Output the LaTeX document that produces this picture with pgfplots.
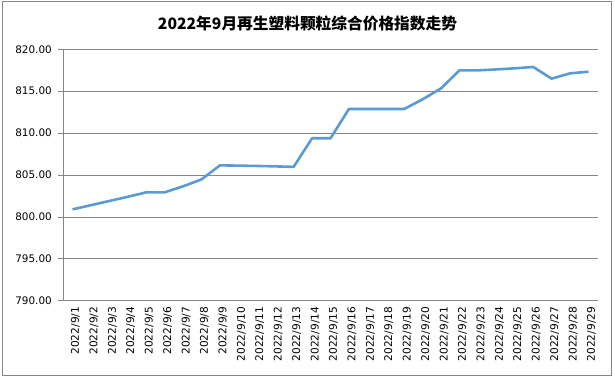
\documentclass[border=0pt]{standalone}
\usepackage{pgfplots}
\pgfplotsset{compat=1.18}
\usepackage{fontspec}
\setmainfont{DejaVu Sans}
\newfontfamily\cjk{Noto Sans CJK SC}
\definecolor{linec}{RGB}{91,155,213}
\definecolor{gridc}{RGB}{134,134,134}
\begin{document}
\begin{tikzpicture}[x=1pt,y=1pt]
\useasboundingbox (0,0) rectangle (615,378);
\draw[gridc, line width=0.9pt] (2.5,2.5) rectangle (611.5,376.5);
\node[font=\cjk\bfseries\fontsize{15.7}{18}\selectfont, anchor=center] at (307.5,354.5) {2022年9月再生塑料颗粒综合价格指数走势};
\begin{axis}[
  at={(63.3pt,77.3pt)}, anchor=south west,
  scale only axis, width=534.4pt, height=251.4pt,
  xmin=-0.5, xmax=28.5, ymin=790, ymax=820,
  axis x line*=bottom, axis y line*=left,
  axis line style={gridc, line width=0.8pt, -},
  ytick={790,795,...,820},
  ymajorgrids, grid style={gridc, line width=0.8pt},
  tick align=outside, major tick length=5pt,
  tick style={gridc, line width=0.8pt},
  xtick={0,...,28},
  x tick style={draw=none},
  minor xtick={-0.5,0.5,...,28.5},
  minor x tick style={gridc, line width=0.8pt},
  minor tick length=5pt,
  xticklabels={2022/9/1,2022/9/2,2022/9/3,2022/9/4,2022/9/5,2022/9/6,2022/9/7,2022/9/8,2022/9/9,2022/9/10,2022/9/11,2022/9/12,2022/9/13,2022/9/14,2022/9/15,2022/9/16,2022/9/17,2022/9/18,2022/9/19,2022/9/20,2022/9/21,2022/9/22,2022/9/23,2022/9/24,2022/9/25,2022/9/26,2022/9/27,2022/9/28,2022/9/29},
  xticklabel style={rotate=90, anchor=east, font=\fontsize{10.6}{12}\selectfont, inner sep=1pt, yshift=-3pt},
  yticklabel style={font=\fontsize{10.4}{12}\selectfont, xshift=-3pt},
  /pgf/number format/assume math mode=true,
  yticklabel={\pgfmathprintnumber[fixed, fixed zerofill, precision=2, 1000 sep={}]{\tick}},
  clip=false,
]
\addplot[linec, line width=2.6pt, line join=round, mark=none] coordinates {
(0,800.90) (1,801.40) (2,801.90) (3,802.40) (4,802.93) (5,802.93) (6,803.65) (7,804.48)
(8,806.15) (9,806.12) (10,806.08) (11,806.03) (12,805.97) (13,809.38) (14,809.38)
(15,812.88) (16,812.88) (17,812.88) (18,812.88) (19,814.03) (20,815.34) (21,817.49)
(22,817.49) (23,817.60) (24,817.73) (25,817.89) (26,816.50) (27,817.13) (28,817.33)
};
\end{axis}
\end{tikzpicture}
\end{document}
